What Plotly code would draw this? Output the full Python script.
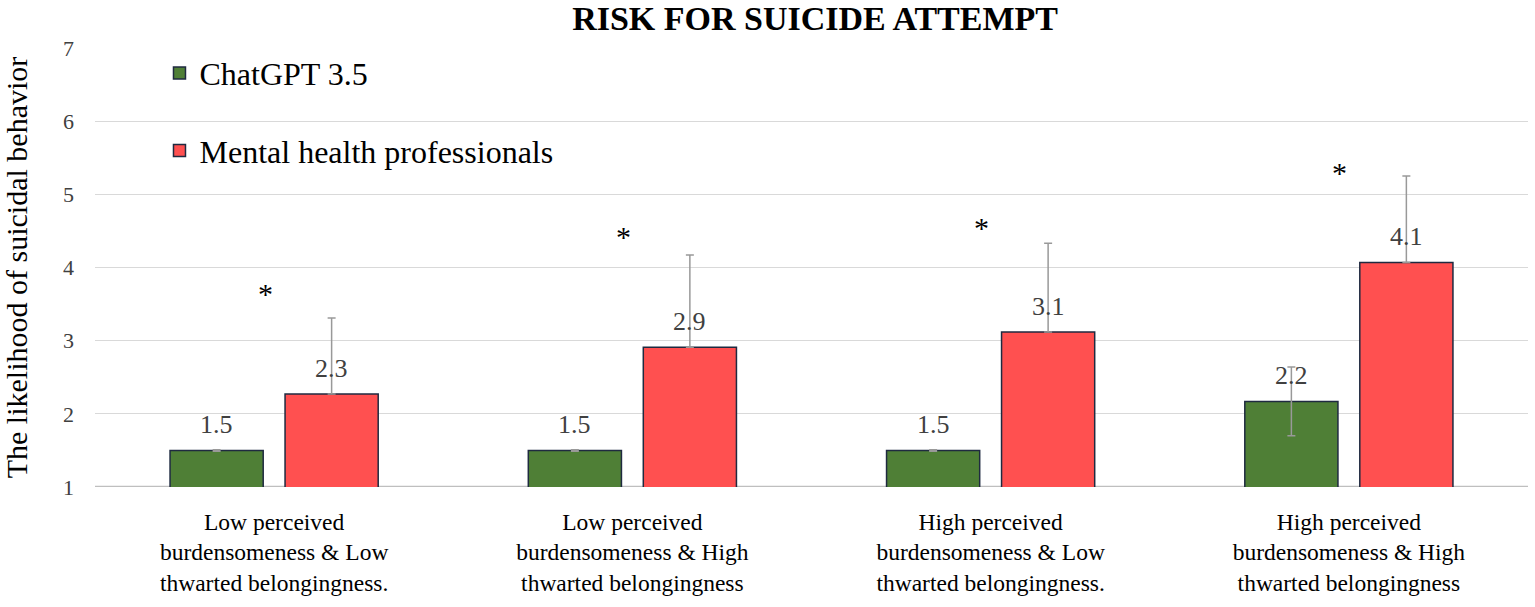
import plotly.graph_objects as go

categories = [
    "Low perceived<br>burdensomeness & Low<br>thwarted belongingness.",
    "Low perceived<br>burdensomeness & High<br>thwarted belongingness",
    "High perceived<br>burdensomeness & Low<br>thwarted belongingness.",
    "High perceived<br>burdensomeness & High<br>thwarted belongingness",
]
cat_ids = ["c1", "c2", "c3", "c4"]
chatgpt_vals = [1.5, 1.5, 1.5, 2.17]
chatgpt_err = [0.01, 0.01, 0.01, 0.47]
chatgpt_labels = ["1.5", "1.5", "1.5", "2.2"]
mhp_vals = [2.27, 2.91, 3.12, 4.07]
mhp_err = [1.04, 1.26, 1.21, 1.18]
mhp_labels = ["2.3", "2.9", "3.1", "4.1"]
star_y = [3.65, 4.43, 4.55, 5.30]

serif = "Liberation Serif, Times New Roman, serif"

fig = go.Figure()
fig.add_trace(go.Bar(
    x=cat_ids, y=chatgpt_vals, name="ChatGPT 3.5", legendgroup="g1",
    marker=dict(color="#4f7f36", line=dict(color="#1f2a40", width=1.5)),
    error_y=dict(type="data", array=chatgpt_err, color="#999999", thickness=1.5, width=4),
))
fig.add_trace(go.Bar(
    x=cat_ids, y=mhp_vals, name="Mental health professionals", legendgroup="g2",
    marker=dict(color="#ff5050", line=dict(color="#1f2a40", width=1.5)),
    error_y=dict(type="data", array=mhp_err, arrayminus=[0, 0, 0, 0], symmetric=False,
                 color="#999999", thickness=1.5, width=4),
))

# value labels above bars
for cid, v, lab in zip(cat_ids, chatgpt_vals, chatgpt_labels):
    fig.add_annotation(x=cid, y=v, xref="x", yref="y", text=lab, showarrow=False,
                       xshift=-57.5, yshift=9, yanchor="bottom",
                       font=dict(family=serif, size=26, color="#404040"))
for cid, v, lab in zip(cat_ids, mhp_vals, mhp_labels):
    fig.add_annotation(x=cid, y=v, xref="x", yref="y", text=lab, showarrow=False,
                       xshift=57.5, yshift=9, yanchor="bottom",
                       font=dict(family=serif, size=26, color="#404040"))

for cid, sy in zip(cat_ids, star_y):
    fig.add_annotation(x=cid, y=sy, xref="x", yref="y", text="*", showarrow=False,
                       xshift=-9, font=dict(family=serif, size=30, color="black"))

fig.update_layout(
    width=1535, height=607,
    margin=dict(l=95, r=7, t=48, b=120),
    paper_bgcolor="white", plot_bgcolor="white",
    title=dict(text="<b>RISK FOR SUICIDE ATTEMPT</b>", x=0.531, xanchor="center",
               y=0.970, yanchor="middle",
               font=dict(family=serif, size=34, color="black")),
    barmode="group", bargap=0.358, bargroupgap=0.19,
    showlegend=True,
    legend=dict(x=0.045, y=1.0055, xanchor="left", yanchor="top",
                font=dict(family=serif, size=32, color="black"),
                bgcolor="rgba(0,0,0,0)", tracegroupgap=33, traceorder="grouped",
                itemwidth=30),
    font=dict(family=serif),
)
fig.update_xaxes(
    tickmode="array", tickvals=cat_ids, ticktext=categories,
    tickfont=dict(family=serif, size=23.5, color="black"),
    showline=False, ticks="", showgrid=False, ticklabelstandoff=18,
    automargin=False,
)
fig.update_yaxes(
    range=[1, 7], dtick=1, showgrid=True, gridcolor="#d9d9d9", gridwidth=1,
    zeroline=False, showline=False, ticks="",
    tickfont=dict(family=serif, size=22, color="#404040"),
    ticklabelstandoff=20, automargin=False,
    title=dict(text="The likelihood of suicidal behavior", standoff=37,
               font=dict(family=serif, size=30, color="black")),
)
fig.add_shape(type="line", xref="paper", yref="y", x0=0, x1=1, y0=1, y1=1,
              line=dict(color="#bfbfbf", width=2.5), layer="below")

fig.write_html("out.html", post_script="document.body.style.margin='0';",
               config={"displayModeBar": False})
